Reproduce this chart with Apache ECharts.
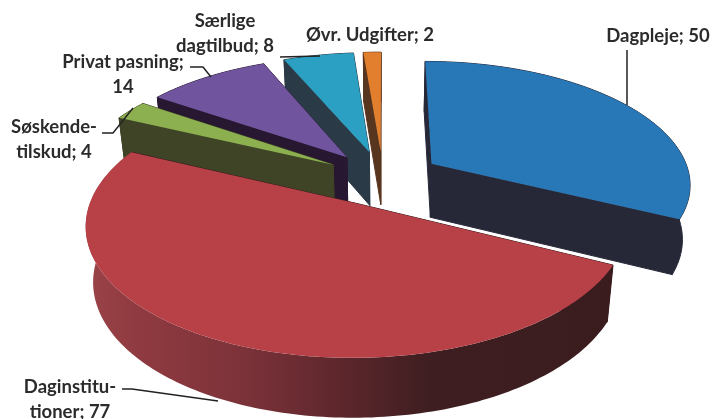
<!DOCTYPE html>
<html><head><meta charset="utf-8">
<script src="https://cdn.jsdelivr.net/npm/echarts@6/dist/echarts.min.js"></script>
<style>html,body{margin:0;padding:0;background:#fff}#c{width:714px;height:419px}</style>
</head><body><div id="c"></div>
<script>
// --- data, in the order of the pie, clockwise from 12 o'clock
const categories = ['Dagpleje','Daginstitutioner','Søskendetilskud','Privat pasning','Særlige dagtilbud','Øvr. Udgifter'];
const values = [50,77,4,14,8,2];
const labelPrefixes = ['Dagpleje; ','Daginstitu-\ntioner; ','Søskende-\ntilskud; ','Privat pasning;\n','Særlige\ndagtilbud; ','Øvr. Udgifter; '];

// --- styles
const topColors = ['#2878b8','#b74147','#8cb04f','#70559e','#2ba0c2','#e27f2e'];
const sideColors = ['#262838','#3a1c1f','#3f4427','#281731','#2b3a47','#58351f'];

// --- 3D view
const VIEW = {cx:383, cy:178, A:259, B:122, p:0.153, explode:0.225, lean:0.975};
const total = values.reduce((a,b)=>a+b,0);
const starts = []; values.reduce((acc,v,i)=>{starts[i]=acc;return acc+v;},0);
function ang(v){return v/total*Math.PI*2;}
function project(X,Y,low){
  const w = 1+VIEW.p*Y;
  let x = VIEW.A*X/w, y = -VIEW.B*Y/w;
  if(low){x*=VIEW.lean; y+=28+26/w;}
  return [VIEW.cx+x, VIEW.cy+y];
}
// far slices first, so nearer ones paint over them
const drawOrder = values.map((v,i)=>i).sort((a,b)=>
  Math.cos(ang(starts[b]+values[b]/2))-Math.cos(ang(starts[a]+values[a]/2)));

function renderSlice(params, api){
  const i = api.value(1), t1 = ang(api.value(2)), t2 = t1+ang(api.value(0));
  const mid=(t1+t2)/2, ox=VIEW.explode*Math.sin(mid), oy=VIEW.explode*Math.cos(mid);
  const n = Math.max(4,Math.ceil((t2-t1)/0.02));
  const arc=[]; for(let k=0;k<=n;k++){const t=t1+(t2-t1)*k/n; arc.push([ox+Math.sin(t),oy+Math.cos(t)]);}
  const poly=(pts,fill,edge)=>({type:'polygon',silent:true,shape:{points:pts},
    style:{fill,stroke:edge||null,lineWidth:edge?1:0}});
  const side=sideColors[i];
  const up=arc.map(a=>project(a[0],a[1],false)), low=arc.map(a=>project(a[0],a[1],true));
  const aU=project(ox,oy,false), aL=project(ox,oy,true);
  const children=[
    poly([aU,up[0],low[0],aL],side,side),
    poly([aU,up[n],low[n],aL],side,side)
  ];
  let arcFill=side, arcEdge=side;
  if(i===1){
    arcEdge=null;
    arcFill=new echarts.graphic.LinearGradient(0,0,1,0,[
      {offset:0,color:'#9a4448'},{offset:0.1,color:'#8f3a40'},{offset:0.3,color:'#7c3239'},
      {offset:0.5,color:'#5a262b'},{offset:0.65,color:'#3f1e21'},{offset:1,color:'#3a1c1f'}]);
  }
  children.push(poly(up.concat(low.slice().reverse()),arcFill,arcEdge));
  children.push(poly([aU].concat(up),topColors[i]));
  return {type:'group',children};
}

const leaderPaths = [
  [[627,50],[627,105]],
  [[122,389],[132,389],[218,401]],
  [[102,133],[113,133],[133,108]],
  [[190,67],[203,67],[211,77]],
  [[280,57],[320,56]],
  []
];
const labelSpots = [[658,36],[70,387],[54,127],[123,62],[225,21],[370,35]];
function renderLabel(params, api){
  const i=api.value(0);
  const lines=(labelPrefixes[i]+values[i]).split('\n');
  const children=lines.map((s,k)=>({type:'text',silent:true,style:{
    x:labelSpots[i][0],y:labelSpots[i][1]+k*25,text:s,textAlign:'center',textVerticalAlign:'middle',
    font:'700 18.5px Lato',fill:'#2b2b2b'}}));
  if(leaderPaths[i].length) children.push({type:'polyline',silent:true,shape:{points:leaderPaths[i]},
    style:{stroke:'#222',lineWidth:1.5,fill:null}});
  return {type:'group',children};
}

const chart=echarts.init(document.getElementById('c'),null,{renderer:'canvas'});
chart.setOption({
  animation:false,
  backgroundColor:'#fff',
  series:[
    {type:'custom',coordinateSystem:'none',clip:false,renderItem:renderSlice,
     data:drawOrder.map(i=>({name:categories[i],value:[values[i],i,starts[i]]}))},
    {type:'custom',coordinateSystem:'none',clip:false,renderItem:renderLabel,z:5,
     data:categories.map((c,i)=>({name:c,value:[i]}))}
  ]
});
</script></body></html>
